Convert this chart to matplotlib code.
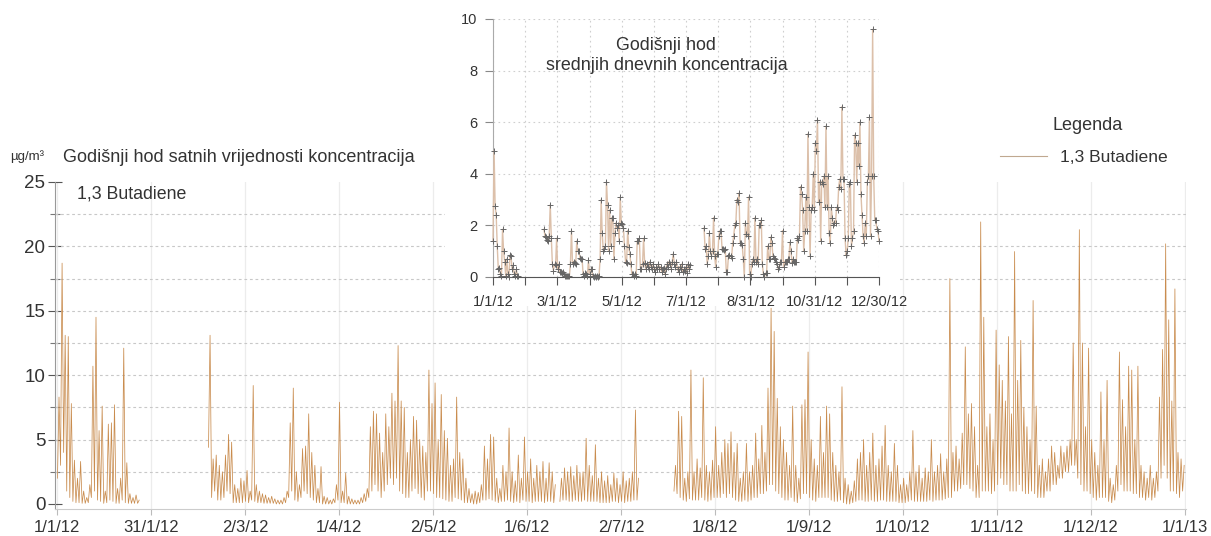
import numpy as np
import matplotlib
matplotlib.use('Agg')
import matplotlib.pyplot as plt
from matplotlib.patches import Rectangle

nan = np.nan

# ---------------- data ----------------
# main chart: hourly concentrations, summarised per day as (low, high) values
start1 = 0
hi1 = [8.3, 18.7, 13.1, 13.0, 7.8, 3.4, 2.0, 3.3, 1.0, 0.5, 1.5, 10.7, 14.5, 5.7, 7.6, 1.0,
       6.2, 6.3, 7.7, 1.2, 2.0, 12.1, 3.2, 0.8, 0.5, 0.7, 0.3]
lo1 = [2.0, 3.0, 4.0, 1.0, 0.5, 0.2, 0.1, 0.1, 0.05, 0.05, 0.1, 0.5, 1.0, 0.3, 0.2, 0.05,
       0.1, 0.3, 0.2, 0.05, 0.05, 0.3, 0.1, 0.05, 0.05, 0.05, 0.05]

start2 = 49
hi2 = [13.1, 3.5, 3.8, 3.0, 2.5, 3.8, 5.4, 4.8, 1.5, 1.2, 2.0, 1.8, 2.6, 1.0, 9.2, 1.5,
       1.0, 0.8, 0.7, 0.5, 0.6, 0.4, 0.3, 0.3, 0.5, 1.0, 6.3, 9.0, 2.5, 1.5, 4.3, 4.5,
       7.0, 4.0, 3.0, 1.2, 2.9, 0.6, 0.5, 0.3, 0.4, 1.5, 7.9, 1.0, 2.4, 0.6, 0.4, 0.3,
       0.3, 0.5, 0.8, 1.2,
       6.0, 7.2, 7.0, 5.5, 4.0, 7.0, 6.0, 8.6, 8.0, 12.3, 8.0, 7.5, 4.0, 5.0, 6.8, 6.5,
       5.0, 4.5, 4.0, 10.4, 7.8, 9.4, 5.0, 8.5, 5.7, 5.1, 3.0, 3.5, 8.3, 4.0, 3.5, 2.0,
       1.2, 0.8, 1.0, 0.9, 1.5, 4.5, 3.5, 5.4, 5.2, 2.0, 1.2, 3.0, 2.5, 5.9, 2.5, 1.8,
       3.8, 2.0, 5.2, 2.5, 3.5, 2.0, 3.0, 2.5, 3.3, 2.0, 3.2, 2.5, 1.5, nan, 2.0, 2.8,
       2.5, 2.9, 2.2, 3.0, 2.4, 2.5, 5.1, 3.0, 2.2, 4.6, 2.0, 2.5, 1.8, 2.2, 1.5, 2.4,
       2.0, 1.5, 2.5, 1.8, 2.0, 2.5, 7.3, 2.0]
lo2 = [4.4, 0.5, 1.0, 0.3, 0.3, 0.5, 1.0, 0.8, 0.1, 0.1, 0.1, 0.1, 0.2, 0.1, 0.3, 0.2,
       0.1, 0.1, 0.05, 0.05, 0.05, 0.05, 0.0, 0.0, 0.0, 0.1, 0.5, 1.0, 0.3, 0.2, 0.5, 1.0,
       0.8, 0.5, 0.3, 0.1, 0.1, 0.0, 0.0, 0.0, 0.0, 0.1, 0.3, 0.1, 0.1, 0.0, 0.0, 0.0,
       0.0, 0.0, 0.1, 0.2,
       0.5, 1.0, 1.5, 1.0, 0.5, 1.0, 1.5, 2.0, 1.5, 2.0, 1.0, 0.8, 0.5, 0.5, 1.0, 1.2,
       0.8, 0.5, 0.3, 1.0, 1.0, 0.8, 0.5, 0.5, 0.4, 0.3, 0.2, 0.2, 0.5, 0.4, 0.3, 0.1,
       0.1, 0.1, 0.0, 0.0, 0.1, 0.3, 0.3, 0.4, 0.3, 0.2, 0.1, 0.2, 0.2, 0.3, 0.2, 0.1,
       0.2, 0.1, 0.3, 0.2, 0.2, 0.1, 0.2, 0.2, 0.2, 0.1, 0.2, 0.2, 0.1, nan, 0.2, 0.3,
       0.3, 0.2, 0.2, 0.3, 0.2, 0.2, 0.3, 0.2, 0.2, 0.2, 0.2, 0.1, 0.1, 0.1, 0.1, 0.2,
       0.2, 0.1, 0.2, 0.1, 0.2, 0.2, 0.3, 0.3]

start3 = 200
hi3 = [3.0, 7.2, 6.8, 2.0, 2.5, 10.4, 2.5, 3.5, 2.8, 9.8, 3.0, 2.5, 3.4, 6.0, 3.0, 4.0,
       5.0, 4.7, 5.6, 4.0, 4.7, 2.0, 2.5, 4.7, 2.5, 3.0, 5.5, 3.5, 6.1, 4.0, 9.0, 15.2,
       13.4, 8.2, 6.0, 5.0, 4.0, 3.0, 7.6, 3.0, 2.0, 7.7, 8.1, 11.8, 5.0, 3.5, 3.0, 6.8,
       4.0, 7.6, 7.0, 4.0, 3.0, 2.5, 9.1, 2.0, 1.5, 1.0, 1.8, 3.5, 4.0, 5.0, 3.0, 4.0,
       5.5, 3.0, 3.5, 4.5, 6.1, 3.0, 2.5, 4.7, 3.0, 1.5, 2.0, 1.5, 2.5, 5.7, 2.5, 3.0,
       2.0, 2.8, 2.5, 5.0, 2.5, 3.0, 3.9, 2.5, 3.5, 17.5, 4.0, 4.5, 3.5, 5.5, 12.2, 7.0,
       7.8, 6.0, 3.0, 21.9, 14.5, 6.0, 7.0, 5.0, 13.5, 10.8, 9.6, 8.0, 13.0, 7.0, 19.6, 9.6,
       12.7, 7.5, 6.0, 5.0, 15.8, 7.6, 3.0, 3.5, 2.5, 3.5, 4.5, 4.0, 3.0, 4.5, 4.0, 4.5,
       5.0, 12.5, 5.0, 21.3, 12.5, 6.0, 12.1, 5.0, 4.0, 3.0, 8.7, 5.0, 9.6, 2.0, 1.5, 3.0,
       11.8, 8.1, 6.0, 10.7, 10.4, 5.0, 10.7, 3.0, 2.5, 2.0, 3.0, 2.0, 2.5, 8.3, 12.0, 20.2,
       14.3, 8.0, 16.7, 4.0, 3.5, 3.0]
lo3 = [1.0, 0.8, 0.5, 0.3, 0.2, 0.4, 0.3, 0.3, 0.3, 0.5, 0.3, 0.2, 0.3, 0.5, 0.5, 0.5,
       0.8, 0.5, 0.8, 0.5, 0.3, 0.2, 0.2, 0.3, 0.2, 0.3, 0.5, 0.5, 0.8, 0.8, 1.0, 1.5,
       1.5, 1.0, 0.8, 0.5, 0.3, 0.3, 0.5, 0.2, 0.1, 0.4, 0.8, 0.8, 0.5, 0.3, 0.2, 0.5,
       0.5, 0.5, 0.5, 0.3, 0.2, 0.2, 0.3, 0.1, 0.0, 0.0, 0.1, 0.2, 0.3, 0.3, 0.2, 0.2,
       0.3, 0.2, 0.2, 0.3, 0.3, 0.2, 0.2, 0.2, 0.2, 0.1, 0.1, 0.1, 0.2, 0.3, 0.2, 0.2,
       0.2, 0.2, 0.2, 0.3, 0.2, 0.3, 0.3, 0.3, 0.4, 0.5, 0.5, 1.0, 1.0, 1.2, 1.5, 1.5,
       1.2, 1.0, 0.5, 0.5, 1.0, 1.0, 1.0, 0.8, 1.0, 1.5, 2.0, 1.5, 1.5, 1.0, 1.0, 1.0,
       1.5, 1.0, 0.8, 0.8, 1.0, 0.8, 0.5, 0.5, 0.5, 1.0, 1.0, 1.5, 1.5, 2.0, 2.0, 2.5,
       2.5, 3.0, 3.0, 2.0, 1.5, 1.0, 1.0, 0.8, 0.5, 0.3, 0.5, 0.5, 0.5, 0.2, 0.1, 0.3,
       1.0, 1.5, 1.0, 1.0, 1.0, 0.8, 0.8, 0.5, 0.5, 0.3, 0.5, 0.3, 0.5, 1.0, 2.0, 3.0,
       2.0, 1.0, 1.0, 0.8, 0.5, 1.0]

main_tick_labels = ['1/1/12', '31/1/12', '2/3/12', '1/4/12', '2/5/12', '1/6/12', '2/7/12',
                    '1/8/12', '1/9/12', '1/10/12', '1/11/12', '1/12/12', '1/1/13']

# inset: daily mean concentrations
dstart1 = 0
daily1 = [1.4, 4.9, 2.75, 2.4, 1.2, 0.3, 0.35, 0.1, 0.05, 1.85, 1.0, 0.6, 0.05, 0.7, 0.1,
          0.0, 0.85, 0.8, 0.3, 0.45, 0.1, 0.05, 0.3, 0.05, 0.05]
dstart2 = 48
daily2 = [1.85, 1.6, 1.55, 1.45, 1.4, 1.6, 2.8, 1.5, 0.5, 0.25,
          0.5, 0.45, 1.5, 0.3, 0.5, 0.2, 0.2, 0.15, 0.2, 0.1,
          0.05, 0.05, 0.02, 0.05, 0.02, 0.5, 1.8, 0.5, 0.6, 0.55,
          0.5, 1.4, 1.0, 1.0, 0.75, 0.7, 0.7, 0.1, 0.05, 0.15,
          0.1, 0.05, 0.65, 0.1, 0.3, 0.3, 0.02, 0.0, 0.05, 0.0,
          0.05, 0.0, 0.05, 0.7, 3.0, 1.7, 1.0, 1.1, 1.2, 3.7,
          2.8, 1.0, 2.6, 1.2, 2.3, 2.3, 0.7, 1.7, 2.1, 1.9,
          2.0, 1.4, 3.1, 2.1, 2.05, 1.9, 1.2, 0.6, 0.55, 1.8,
          1.15, 0.9, 0.5, 0.1, 0.1, 0.05, 0.1, 0.05, 1.4, 1.4,
          1.5, 0.3, 0.3, 0.5, 1.5, 0.55, 0.3, 0.5, 0.4, 0.3,
          0.6, 0.4, 0.3, 0.5, 0.3, 0.2, 0.4, 0.3, 0.5, 0.3,
          0.4, 0.2, 0.3, 0.35, 0.1, 0.3, 0.5, 0.4, 0.6, 0.5,
          0.3, 0.6, 0.9, 0.5, 0.4, 0.6, 0.3, 0.2, 0.4, 0.3,
          0.5, 0.2, 0.3, 0.25, 0.4, 0.15, 0.5, 0.3, 0.45]
dstart3 = 199
daily3 = [1.9, 1.1, 1.2, 0.5, 0.8, 1.7, 1.0, 0.8, 1.0, 2.3,
          0.8, 0.4, 0.9, 0.9, 1.6, 1.8, 1.8, 1.1, 1.1, 1.05,
          1.1, 0.2, 0.2, 0.8, 0.85, 0.8, 0.75, 1.3, 1.6, 2.0,
          2.1, 3.0, 2.9, 3.25, 1.3, 1.3, 1.25, 0.7, 0.0, 2.1,
          1.65, 1.6, 3.1, 0.1, 0.0, 0.5, 0.7, 0.6, 2.3, 0.6,
          0.7, 0.5, 2.0, 2.0, 2.2, 0.5, 0.1, 0.0, 0.15, 0.15,
          1.2, 0.7, 0.7, 1.55, 1.3, 0.8, 0.75, 0.7, 0.6, 0.5,
          0.3, 0.4, 0.6, 0.6, 1.8, 0.4, 0.6, 0.6, 0.6, 0.7,
          0.7, 1.35, 1.0, 0.55, 0.7, 0.6, 0.6, 0.6, 1.5, 1.45,
          1.6, 3.5, 3.2, 2.6, 1.0, 1.8, 3.1, 1.8, 5.55, 2.7,
          0.8, 2.6, 2.7, 4.0, 2.6, 5.2, 4.9, 6.1, 2.9, 3.7,
          1.4, 3.7, 3.6, 3.9, 2.7, 5.85, 2.7, 3.9, 1.7, 1.3,
          2.7, 2.3, 2.0, 2.1, 2.1, 2.7, 2.6, 3.5, 3.8, 3.4,
          6.6, 3.8, 3.8, 1.5, 0.85, 1.0, 1.5, 3.6, 3.7, 1.2,
          1.5, 1.8, 5.5, 5.2, 3.7, 5.2, 4.3, 6.0, 3.2, 2.4,
          1.6, 1.3, 2.1, 1.6, 3.7, 3.9, 6.2, 1.6, 3.9, 9.6,
          3.9, 2.2, 2.2, 1.85, 1.8, 1.4]

inset_tick_labels = ['1/1/12', '', '3/1/12', '', '5/1/12', '', '7/1/12', '',
                     '8/31/12', '', '10/31/12', '', '12/30/12']

# ---------------- style ----------------
plt.rcParams['font.family'] = ['Liberation Sans', 'DejaVu Sans']
TXT = '#333333'
LINE_C = '#c98c4e'

W, H = 1211, 536
fig = plt.figure(figsize=(W / 100, H / 100), dpi=100)

# ---------------- main axes ----------------
ax = fig.add_axes([55 / W, 27 / H, 1131 / W, 327 / H])
ax.set_zorder(0)


def interleave(start, lo, hi):
    n = min(len(lo), len(hi))
    xs, ys = [], []
    for i in range(n):
        xs += [start + i + 0.2, start + i + 0.7]
        ys += [lo[i], hi[i]]
    return xs, ys


X, Y = [], []
for s, lo, hi in [(start1, lo1, hi1), (start2, lo2, hi2), (start3, lo3, hi3)]:
    xs, ys = interleave(s, lo, hi)
    X += xs + [nan]
    Y += ys + [nan]
main_line, = ax.plot(X, Y, color=LINE_C, lw=0.55, zorder=3)

ax.set_xlim(-0.6, 366.3)
ax.set_ylim(-0.39, 25)
ax.set_xticks(np.linspace(0, 366, 13))
ax.set_xticklabels(main_tick_labels)
ax.set_yticks(np.arange(0, 26, 5))
ax.set_yticks(np.arange(2.5, 25, 5), minor=True)
for v in np.arange(2.5, 23, 2.5):
    ax.axhline(v, color='#c8c8c8', lw=0.8, ls=(0, (2.5, 2.5)), zorder=1)
ax.xaxis.grid(True, color='#ececec', lw=0.9)
ax.set_axisbelow(True)
for s in ['top', 'right']:
    ax.spines[s].set_visible(False)
ax.spines['left'].set_color('#999999')
ax.spines['bottom'].set_color('#cccccc')
ax.tick_params(axis='y', which='major', direction='inout', length=10, width=0.8,
               color='#555555', labelsize=13.5, labelcolor=TXT, pad=2)
ax.tick_params(axis='y', which='minor', direction='inout', length=7, width=0.8,
               color='#777777')
ax.tick_params(axis='x', direction='out', length=4, color='#bbbbbb',
               labelsize=12, labelcolor=TXT, pad=4)

# ---------------- white box behind inset ----------------
fig.add_artist(Rectangle((445 / W, 1 - 306 / H), (900 - 445) / W, 306 / H,
                         transform=fig.transFigure, facecolor='white',
                         edgecolor='none', zorder=2))

# ---------------- inset ----------------
axi = fig.add_axes([493 / W, 259 / H, 386 / W, 258 / H])
axi.set_zorder(3)
axi.set_facecolor('white')
for s, d in [(dstart1, daily1), (dstart2, daily2), (dstart3, daily3)]:
    axi.plot(np.arange(len(d)) + s, d, color='#dcc0aa', lw=1.0, marker='+',
             ms=4, mec='#666666', mew=0.7, zorder=3, clip_on=False)
axi.set_xlim(0, 364)
axi.set_ylim(0, 10)
axi.set_xticks(np.linspace(0, 364, 13))
axi.set_xticklabels(inset_tick_labels)
axi.set_yticks(np.arange(0, 11, 2))
axi.grid(True, color='#cfcfcf', lw=0.8, ls=(0, (1.5, 3)))
axi.set_axisbelow(True)
for s in ['top', 'right']:
    axi.spines[s].set_visible(False)
axi.spines['left'].set_color('#aaaaaa')
axi.spines['bottom'].set_color('#555555')
axi.tick_params(axis='x', direction='out', length=6, color='#555555',
                labelsize=10.5, labelcolor=TXT, pad=7)
axi.tick_params(axis='y', direction='out', length=6, color='#888888',
                labelsize=10.5, labelcolor=TXT, pad=5)

# ---------------- texts ----------------
fig.text(10 / W, 1 - 157 / H, 'µg/m³', fontsize=9.5, color=TXT, va='center', ha='left')
fig.text(63 / W, 1 - 157 / H, 'Godišnji hod satnih vrijednosti koncentracija',
         fontsize=13, color=TXT, va='center', ha='left')
fig.text(77 / W, 1 - 194 / H, '1,3 Butadiene', fontsize=12.8, color=TXT,
         va='center', ha='left', zorder=4)
fig.text(666 / W, 1 - 45 / H, 'Godišnji hod', fontsize=12.9, color=TXT,
         va='center', ha='center', zorder=5)
fig.text(667 / W, 1 - 66 / H, 'srednjih dnevnih koncentracija', fontsize=12.9,
         color=TXT, va='center', ha='center', zorder=5)

# legend
fig.text(1052 / W, 1 - 126 / H, 'Legenda', fontsize=13, color=TXT, va='center', ha='left')
leg = fig.legend([main_line], ['1,3 Butadiene'], loc='center left',
                 bbox_to_anchor=(1000 / W, 1 - 157 / H), frameon=False, fontsize=12.6,
                 handlelength=2.7, handletextpad=0.7, borderpad=0, borderaxespad=0,
                 labelcolor=TXT)
for h in leg.legend_handles:
    h.set_color('#c0a890')
    h.set_linewidth(0.8)

fig.savefig('out.png', dpi=100)
